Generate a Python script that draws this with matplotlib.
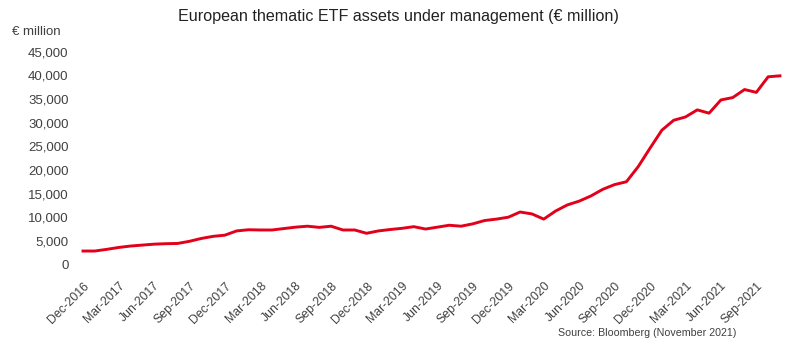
import matplotlib.pyplot as plt
import numpy as np
import pandas as pd

# monthly assets under management, Dec-2016 .. Nov-2021 (EUR million)
months = pd.date_range('2016-12-01', '2021-11-01', freq='MS')
aum = [2850, 2850, 3200, 3600, 3900, 4100, 4300, 4400, 4450, 4900, 5500, 5950,
       6200, 7100, 7350, 7300, 7300, 7600, 7900, 8100, 7850, 8100, 7300, 7300,
       6600, 7100, 7400, 7650, 8000, 7500, 7900, 8300, 8100, 8600, 9300, 9600,
       10000, 11100, 10700, 9600, 11300, 12600, 13400, 14500, 15900, 16900, 17500, 20700,
       24600, 28400, 30500, 31200, 32700, 32000, 34800, 35300, 37000, 36400, 39700, 39900]
yticks = np.arange(0, 45001, 5000)
month_labels = [d.strftime('%b-%Y') for d in months]

plt.rcParams['font.family'] = ['Liberation Sans', 'DejaVu Sans']
grey = '#404040'

fig = plt.figure(figsize=(7.97, 3.42), dpi=100)
ax = fig.add_axes([78.3 / 797, 0.2266, (784.7 - 78.3) / 797, 0.8488 - 0.2266])

x = np.arange(len(aum))
ax.plot(x, aum, color='#e2001a', lw=2.1, solid_joinstyle='round')

ax.set_xlim(-0.4, len(aum) - 0.6)
ax.set_ylim(0, 45000)
ax.set_yticks(yticks)
ax.set_yticklabels([f'{v:,.0f}' for v in yticks], color=grey, fontsize=9.5)
ax.set_xticks(x[::3])
ax.set_xticklabels(month_labels[::3], rotation=45, ha='right',
                   rotation_mode='anchor', color=grey, fontsize=8.8)
ax.tick_params(length=0, axis='y', pad=7)
ax.tick_params(length=0, axis='x', pad=11)
for s in ax.spines.values():
    s.set_visible(False)

fig.text(0.5, 0.953, 'European thematic ETF assets under management (€ million)',
         ha='center', va='center', fontsize=11.6, color='#222222')
fig.text(12 / 797, 0.905, '€ million', ha='left', va='center', fontsize=9.5, color=grey)
fig.text(736 / 797, 0.027, 'Source: Bloomberg (November 2021)', ha='right',
         va='center', fontsize=7.7, color=grey)

fig.savefig('out.png', dpi=100)
